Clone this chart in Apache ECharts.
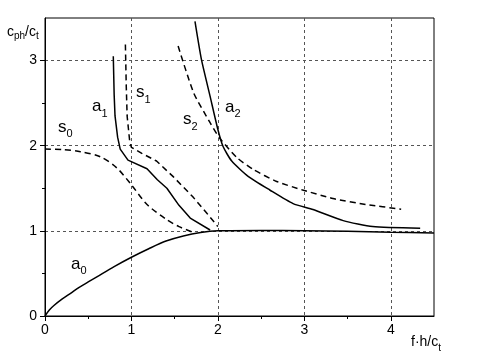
<!DOCTYPE html>
<html>
<head>
<meta charset="utf-8">
<script src="https://cdn.jsdelivr.net/npm/echarts@6/dist/echarts.min.js"></script>
<style>
  html, body { margin: 0; padding: 0; background: #fff; }
  #chart { width: 478px; height: 351px; }
</style>
</head>
<body>
<div id="chart"></div>
<script>
// tick values
const xTicks = [0, 1, 2, 3, 4]
const xMinor = [0.5, 1.5, 2.5, 3.5]
const yTicks = [0, 1, 2, 3]
const yMinor = [0.5, 1.5, 2.5]

// dispersion branches, [f*h/ct, cph/ct]
const a0 = [[0, 0], [0.05, 0.07], [0.1, 0.12], [0.2, 0.2], [0.3, 0.27], [0.4, 0.34], [0.5, 0.4],
  [0.6, 0.46], [0.8, 0.58], [1.0, 0.69], [1.2, 0.79], [1.4, 0.88], [1.6, 0.94], [1.8, 0.98],
  [2.0, 1.0], [2.5, 1.005], [3.0, 1.0], [3.5, 0.995], [4.0, 0.985], [4.5, 0.975]]
const s0 = [[0, 1.96], [0.2, 1.955], [0.41, 1.93], [0.64, 1.87], [0.83, 1.74], [1.0, 1.54],
  [1.18, 1.31], [1.41, 1.13], [1.55, 1.05], [1.72, 0.98]]
const a1 = [[0.79, 3.05], [0.8, 2.6], [0.81, 2.35], [0.84, 2.1], [0.87, 1.96], [0.96, 1.83],
  [1.18, 1.73], [1.3, 1.6], [1.41, 1.5], [1.55, 1.3], [1.68, 1.15], [1.91, 1.01]]
const s1 = [[0.93, 3.19], [0.94, 2.7], [0.95, 2.35], [0.98, 2.05], [1.0, 1.98], [1.12, 1.91],
  [1.29, 1.82], [1.48, 1.64], [1.71, 1.4], [1.87, 1.21], [2.0, 1.05]]
const a2 = [[1.735, 3.46], [1.81, 3.01], [1.91, 2.58], [2.0, 2.19], [2.06, 1.99], [2.16, 1.82],
  [2.35, 1.64], [2.6, 1.48], [2.87, 1.32], [3.1, 1.25], [3.45, 1.12], [3.79, 1.05], [4.34, 1.03]]
const s2 = [[1.54, 3.17], [1.72, 2.62], [1.91, 2.27], [2.02, 2.09], [2.22, 1.86], [2.41, 1.72],
  [2.68, 1.58], [2.98, 1.48], [3.33, 1.38], [3.71, 1.31], [4.12, 1.255]]

const font = 'Liberation Sans, Arial, sans-serif'
const chart = echarts.init(document.getElementById('chart'))

const solid = (name, data, smooth) => ({
  name, type: 'line', data, smooth: smooth || false, symbol: 'none',
  xAxisIndex: 0, yAxisIndex: 0, z: 5,
  lineStyle: { color: '#000', width: 1.5 },
})
const dashed = (name, data, smooth) => ({
  name, type: 'line', data, smooth: smooth || false, symbol: 'none',
  xAxisIndex: 0, yAxisIndex: 0, z: 5,
  lineStyle: { color: '#000', width: 1.5, type: [6, 4] },
})

// text with a subscript, placed by baseline
const subText = (parts, x, base, fs, ss, drop) => {
  const top = base - 0.8465 * fs
  const pad = Math.max(0, 0.8465 * fs + drop - 0.8465 * ss)
  return {
    type: 'text', x, y: top, z: 10,
    style: {
      text: parts.map((p, i) => (i % 2 ? `{s|${p}}` : `{m|${p}}`)).join(''),
      verticalAlign: 'top', align: 'left', fill: '#000',
      rich: {
        m: { fontSize: fs, fontFamily: font, lineHeight: fs, verticalAlign: 'top', fill: '#000' },
        s: { fontSize: ss, fontFamily: font, lineHeight: ss, verticalAlign: 'top', fill: '#000', padding: [pad, 0, 0, 0] },
      },
    },
  }
}

const gridLine = { show: true, lineStyle: { color: '#555', width: 1, type: [3, 3] } }
const intLabel = (v) => (Number.isInteger(v) ? String(v) : '')
const axisLine = { show: true, onZero: false, lineStyle: { color: '#000', width: 1 } }
const box = { left: 45, top: 18, width: 389, height: 298 }

const option = {
  animation: false,
  backgroundColor: '#fff',
  grid: [
    { ...box, show: true, borderColor: '#000', borderWidth: 1, backgroundColor: 'transparent' },
    { ...box },
  ],
  xAxis: [
    {
      gridIndex: 0, type: 'value', min: 0, max: 4.5, interval: 1, position: 'bottom',
      axisLine,
      axisTick: { show: true, length: 5, customValues: xTicks, lineStyle: { color: '#000' } },
      axisLabel: { customValues: xTicks, formatter: intLabel, color: '#000', fontSize: 14, fontFamily: font, margin: 7 },
      splitLine: gridLine,
    },
    {
      // minor ticks
      gridIndex: 1, type: 'value', min: 0, max: 4.5, interval: 0.5, position: 'bottom',
      axisLine: { show: false, onZero: false },
      axisTick: { show: true, length: 3, customValues: xMinor, lineStyle: { color: '#000' } },
      axisLabel: { show: false }, splitLine: { show: false },
    },
  ],
  yAxis: [
    {
      gridIndex: 0, type: 'value', min: 0, max: 3.5, interval: 1, position: 'left',
      axisLine,
      axisTick: { show: true, length: 5, customValues: yTicks, lineStyle: { color: '#000' } },
      axisLabel: { customValues: yTicks, formatter: intLabel, color: '#000', fontSize: 14, fontFamily: font, margin: 8 },
      splitLine: gridLine,
    },
    {
      // minor ticks
      gridIndex: 1, type: 'value', min: 0, max: 3.5, interval: 0.5, position: 'left',
      axisLine: { show: false, onZero: false },
      axisTick: { show: true, length: 3, customValues: yMinor, lineStyle: { color: '#000' } },
      axisLabel: { show: false }, splitLine: { show: false },
    },
  ],
  series: [
    solid('a0', a0, 0.3),
    dashed('s0', s0, 0.3),
    solid('a1', a1),
    dashed('s1', s1),
    solid('a2', a2, 0.2),
    dashed('s2', s2, 0.2),
  ],
  graphic: [
    subText(['c', 'ph', '/c', 't'], 7, 37, 14, 10, 3),
    subText(['f·h/c', 't'], 411, 347, 14, 10, 5),
    subText(['a', '0'], 71, 270, 17, 11, 5),
    subText(['s', '0'], 58, 133, 17, 11, 5),
    subText(['a', '1'], 92, 112, 17, 11, 6),
    subText(['s', '1'], 136, 98, 17, 11, 6),
    subText(['a', '2'], 225, 113, 17, 11, 5),
    subText(['s', '2'], 183, 125, 17, 11, 6),
  ],
}

chart.setOption(option)
</script>
</body>
</html>
